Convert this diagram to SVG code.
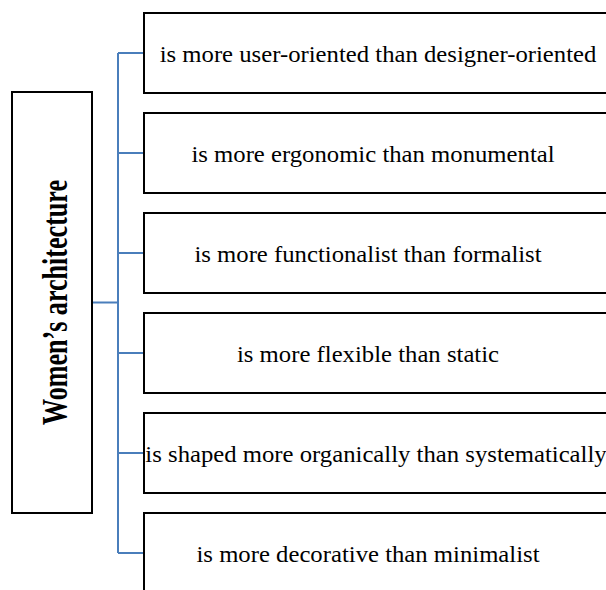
<svg xmlns="http://www.w3.org/2000/svg" width="606" height="590" viewBox="0 0 606 590">
<style>
.box{fill:#fff;stroke:#000;stroke-width:2}
.conn{fill:none;stroke:#4A7EBB;stroke-width:2}
.t{font-family:"Liberation Serif","Times New Roman",serif;font-size:23px;fill:#000;text-anchor:middle}
.h{font-family:"Liberation Serif","Times New Roman",serif;font-size:35px;font-weight:bold;fill:#000;text-anchor:middle}
</style>
<rect width="606" height="590" fill="#fff"/>
<g id="connectors">
<path class="conn" d="M92,302.5H118M118,53V553M118,53H144M118,153H144M118,253H144M118,353H144M118,453H144M118,553H144"/>
</g>
<g id="root">
<rect class="box" x="12" y="92" width="80" height="421"/>
<text class="h" transform="translate(67,302.5) rotate(-90)" textLength="245" lengthAdjust="spacingAndGlyphs">Women’s architecture</text>
</g>
<g id="n1">
<rect class="box" x="144" y="13" width="480" height="80"/>
<text class="t" transform="translate(378,61.5) scale(1.075,1)">is more user-oriented than designer-oriented</text>
</g>
<g id="n2">
<rect class="box" x="144" y="113" width="480" height="80"/>
<text class="t" transform="translate(373,161.5) scale(1.075,1)">is more ergonomic than monumental</text>
</g>
<g id="n3">
<rect class="box" x="144" y="213" width="480" height="80"/>
<text class="t" transform="translate(368,261.5) scale(1.075,1)">is more functionalist than formalist</text>
</g>
<g id="n4">
<rect class="box" x="144" y="313" width="480" height="80"/>
<text class="t" transform="translate(368,361.5) scale(1.075,1)">is more flexible than static</text>
</g>
<g id="n5">
<rect class="box" x="144" y="413" width="480" height="80"/>
<text class="t" transform="translate(376,461.5) scale(1.075,1)">is shaped more organically than systematically</text>
</g>
<g id="n6">
<rect class="box" x="144" y="513" width="480" height="80"/>
<text class="t" transform="translate(368,561.5) scale(1.075,1)">is more decorative than minimalist</text>
</g>
</svg>
